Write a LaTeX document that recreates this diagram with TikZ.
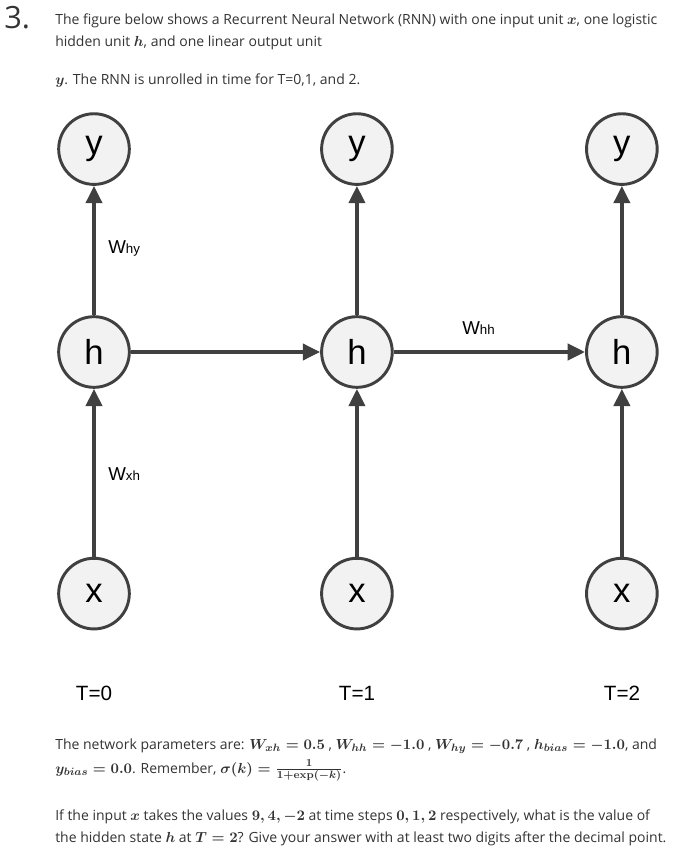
\documentclass[tikz,border=0pt]{standalone}
\usepackage[no-math]{fontspec}
\setmainfont{Open Sans}
\newfontfamily\unitfont{Liberation Sans}
\usetikzlibrary{positioning}
\usetikzlibrary{arrows.meta}
\definecolor{unitline}{HTML}{404040}
\definecolor{unitfill}{HTML}{F2F2F2}
\definecolor{bodytext}{HTML}{333333}
\newcommand{\mq}[1]{{\fontsize{10.95}{12}\selectfont\boldmath\(#1\)}}

\begin{document}
\begin{tikzpicture}[x=0.75pt,y=-0.75pt]
\tikzset{unit/.style={circle,draw=unitline,fill=unitfill,line width=2.2pt,
		inner sep=0pt,minimum size=53pt,font=\unitfont\fontsize{26}{26}\selectfont},
	link/.style={draw=unitline,line width=3pt,-{Triangle[length=13pt,width=12pt]}},
	weight/.style={anchor=west,inner sep=0pt,font=\unitfont\fontsize{14}{14}\selectfont},
	stamp/.style={inner sep=0pt,font=\unitfont\fontsize{15.5}{16}\selectfont},
	line/.style={anchor=base west,inner sep=0pt,text=bodytext,font=\fontsize{10.5}{12}\selectfont}}

\useasboundingbox (0,0) rectangle (691,857);

% question text
\node[line,font=\fontsize{23}{23}\selectfont] (num) at (4,28) {3.};
\node[line] (q1) at (55,24) {The figure below shows a Recurrent Neural Network (RNN) with one input unit \mq{x}, one logistic};
\node[line] (q2) at (55,46) {hidden unit \mq{h}, and one linear output unit};
\node[line] (q3) at (55,84) {\mq{y}. The RNN is unrolled in time for T=0,1, and 2.};

% units
\node[unit] (h0) at (94,352) {h};
\node[unit] (y0) [above = 97pt of h0] {y};
\node[unit] (x0) [below = 126pt of h0] {x};

\node[unit] (h1) [right = 142pt of h0] {h};
\node[unit] (y1) [above = 97pt of h1] {y};
\node[unit] (x1) [below = 126pt of h1] {x};

\node[unit] (h2) [right = 143.5pt of h1] {h};
\node[unit] (y2) [above = 97pt of h2] {y};
\node[unit] (x2) [below = 126pt of h2] {x};

\draw[link] (h0) -- (y0);
\draw[link] (x0) -- (h0);
\draw[link] (h1) -- (y1);
\draw[link] (x1) -- (h1);
\draw[link] (h2) -- (y2);
\draw[link] (x2) -- (h2);
\draw[link] (h0) -- (h1);
\draw[link] (h1) -- (h2);

\node[weight] (why) at (108,248) {W{\fontsize{10}{10}\selectfont hy}};
\node[weight] (wxh) at (108,474) {W{\fontsize{10}{10}\selectfont xh}};
\node[weight] (whh) at (462,328) {W{\fontsize{10}{10}\selectfont hh}};

\node[stamp] (t0) at (94,693) {T=0};
\node[stamp] (t1) at (357,693) {T=1};
\node[stamp] (t2) at (622,693) {T=2};

% parameters and question
\node[line] (p1) at (55,749) {The network parameters are: \mq{W_{xh}=0.5} , \mq{W_{hh}=-1.0} , \mq{W_{hy}=-0.7} , \mq{h_{bias}=-1.0}, and};
\node[line] (p2) at (55,773) {\mq{y_{bias}=0.0}. Remember, \mq{\sigma(k)=\frac{1}{1+\exp(-k)}}.};
\node[line] (a1) at (55,820) {If the input \mq{x} takes the values \mq{9,4,-2} at time steps \mq{0,1,2} respectively, what is the value of};
\node[line] (a2) at (55,842) {the hidden state \mq{h} at \mq{T=2}? Give your answer with at least two digits after the decimal point.};
\end{tikzpicture}
\end{document}
